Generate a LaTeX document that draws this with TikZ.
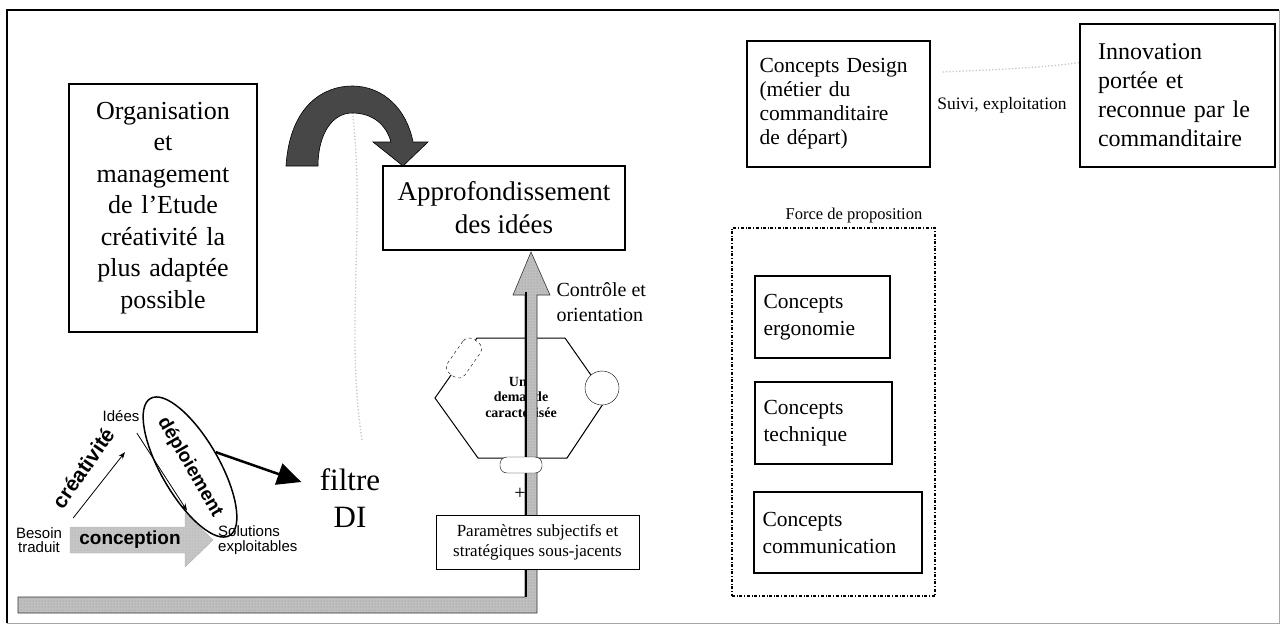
\documentclass[tikz,border=0pt]{standalone}
\usepackage{fontspec}
\setmainfont{Liberation Serif}
\setsansfont{Liberation Sans}
\usetikzlibrary{positioning,shapes.geometric,arrows.meta,patterns}
\newcommand\fsz[2]{\fontsize{#1}{#2}\selectfont}
\tikzset{
  boite/.style={draw, line width=1.4pt, inner sep=0pt, fill=white},
  bande/.style={fill=gray!50, draw=gray!40!black, line width=0.6pt,
                postaction={pattern=dots, pattern color=black!45}},
  pointille/.style={gray!45, dotted, line width=1.3pt},
  fin/.style={line width=0.8pt, -{Stealth[length=7pt]}}
}

\begin{document}
\begin{tikzpicture}[x=1pt,y=-1pt]
        \useasboundingbox (0,0) rectangle (1281,634);
        % Cadre
        \draw[line width=1.8pt] (7,623) -- (7,10) -- (1279,10);
        \draw[gray!70, line width=0.8pt] (1279,10) -- (1279,623) -- (7,623);

        % Pointillés pâles
        \draw[pointille] (362,440) .. controls (345,330) and (366,220) .. (352,108);

        % Boîtes du haut
        \node[boite, minimum width=188pt, minimum height=248pt, text width=180pt,
              align=center, font=\fsz{26}{31.5}] (orga) at (163,208)
              {Organisation\\ et\\ management\\ de l’Etude\\ créativité la\\ plus adaptée\\ possible};
        \node[boite, minimum width=242pt, minimum height=84pt, align=center,
              font=\fsz{27}{33}] (appro) at (504,208) {Approfondissement\\ des idées};
        \node[boite, minimum width=183pt, minimum height=126pt, text width=158pt,
              align=left, font=\fsz{21.5}{24}] (design) at (838.5,104)
              {Concepts Design\\ (métier du\\ commanditaire\\ de départ)};
        \node[boite, minimum width=195pt, minimum height=143pt, text width=159pt,
              align=left, font=\fsz{24}{29}] (innov) at (1177.5,95.5)
              {Innovation\\ portée et\\ reconnue par le\\ commanditaire};
        \node[font=\fsz{17.5}{19}, inner sep=0pt] (suivi) at (1002,105) {Suivi, exploitation};
        \draw[pointille] ([shift={(12pt,32pt)}]design.east) .. controls +(40pt,2pt) and +(-40pt,-6pt) .. ([yshift=33pt]innov.west);

        % Force de proposition
        \node[draw, dash dot, line width=1.3pt, minimum width=203pt,
              minimum height=368pt] (force) at (833.5,412) {};
        \node[font=\fsz{16.5}{18}] (forcetxt) at (854,216) {Force de proposition};
        \node[boite, minimum width=135pt, minimum height=82pt, text width=118pt,
              align=left, font=\fsz{21.5}{27}] (ergo) at (822.5,317) {Concepts\\ ergonomie};
        \node[boite, minimum width=137pt, minimum height=82pt, text width=120pt,
              align=left, font=\fsz{21.5}{27}] (techn) at (823.5,423) {Concepts\\ technique};
        \node[boite, minimum width=168pt, minimum height=81pt, text width=151pt,
              align=left, font=\fsz{21.5}{27}] (commu) at (838,532.5) {Concepts\\ communication};

        % Flèche courbe vers l'approfondissement
        \fill[black!72, draw=black, line width=0.6pt]
          (286,166) .. controls (290,104) and (325,86) .. (352,86)
          .. controls (384,86) and (407,110) .. (413,142)
          -- (428,142) -- (403,166) -- (373,142) -- (391,142)
          .. controls (386,124) and (372,113) .. (352,113)
          .. controls (333,113) and (318,133) .. (318,166) -- cycle;

        % Hexagone
        \draw[line width=1pt] (435,398) -- (477,338) -- (565,338) -- (607,398)
          -- (567,458) -- (478,458) -- cycle;
        \node[font=\bfseries\fsz{14}{15.5}, align=center] (hexa) at (521,397)
              {Une\\ demande\\ caractérisée};

        % Bande grise et flèche verticale
        \path[bande] (18,597) -- (525,597) -- (525,295) -- (513,295) -- (531,252)
          -- (550,295) -- (537,295) -- (537,613) -- (18,613) -- cycle;
        \draw[line width=2.5pt] (526,292) -- (526,597);

        \node[draw, dashed, fill=white, rounded corners=8pt, rotate=55,
              minimum width=42pt, minimum height=21pt] (tiret) at (464,358) {};
        \node[draw, circle, fill=white, minimum size=34pt, inner sep=0pt] (rond) at (602,388) {};
        \node[draw, fill=white, rounded corners=7pt, minimum width=42pt,
              minimum height=16pt] (pilule) at (521,465) {};
        \node[font=\fsz{20}{20}] (plus) at (520,494) {+};

        \node[boite, line width=1pt, minimum width=203pt, minimum height=54pt,
              align=center, font=\fsz{17}{20}] (param) at (537.5,542)
              {Paramètres subjectifs et\\ stratégiques sous-jacents};
        \node[anchor=west, align=left, font=\fsz{20}{25}] (controle) at (553,302)
              {Contrôle et\\ orientation};

        % Petit schéma en bas à gauche
        \path[fill=gray!45, draw=gray!60, postaction={pattern=dots, pattern color=black!35}]
          (70,527) -- (185,527) -- (185,513) -- (213,540)
          -- (185,567) -- (185,553) -- (70,553) -- cycle;
        \node[font=\sffamily\bfseries\fsz{19}{19}] (concep) at (130,540) {conception};
        \node[font=\sffamily\fsz{15}{14.5}, align=center, inner sep=1pt] (besoin) at (39,540) {Besoin\\ traduit};
        \node[font=\sffamily\fsz{15}{14.5}, align=left, anchor=west, inner sep=1pt] (solutions) at (217,540) {Solutions\\ exploitables};
        \node[font=\sffamily\fsz{15}{15}] (idees) at (121,416) {Idées};
        \node[font=\sffamily\bfseries\fsz{21}{21}, rotate=55] (creat) at (83,468) {créativité};
        \node[draw, ellipse, line width=1.5pt, rotate=-60, minimum width=142pt,
              minimum height=58pt, inner sep=0pt, font=\sffamily\bfseries\fsz{19}{19}]
              (deploi) at (190,467) {déploiement};
        \draw[fin] ([shift={(10pt,8pt)}]besoin.north east) -- ([shift={(4pt,-27pt)}]idees.south);
        \draw[fin] ([shift={(-6pt,-8pt)}]idees.south east) -- ([shift={(-30pt,14pt)}]solutions.north west);

        \node[align=center, font=\fsz{31}{37}] (filtre) at (350,498) {filtre\\ DI};
        \draw[line width=2.5pt, -{Triangle[length=24pt,width=22pt]}]
          (deploi.north) -- ([yshift=16pt,xshift=-15pt]filtre.west);
\end{tikzpicture}
\end{document}
